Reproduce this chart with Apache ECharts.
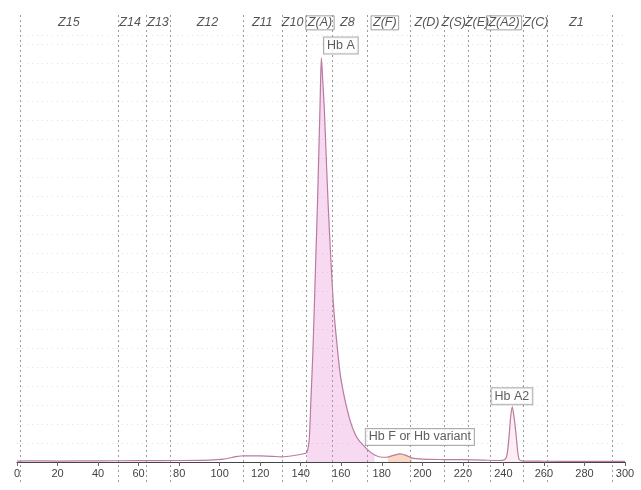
<!DOCTYPE html>
<html>
<head>
<meta charset="utf-8">
<style>
  html, body { margin: 0; padding: 0; background: #fff; }
  #chart { width: 641px; height: 490px; }
</style>
<script src="https://cdn.jsdelivr.net/npm/echarts@6/dist/echarts.min.js"></script>
</head>
<body>
<div id="chart"></div>
<script>
// trace: [migration position, signal]
const trace = [
  [0, 0.5], [10, 0.6], [20, 0.5], [40, 0.6], [60, 0.7], [80, 0.8], [95, 1], [102, 1.5],
  [108, 2.8], [112, 3.3], [120, 3.2], [126, 3], [131, 2.7], [136, 3.3], [141, 4.2], [143, 5],
  [144.2, 12], [145, 32], [146, 58], [146.8, 85], [147.5, 110], [148.2, 134], [148.9, 162],
  [149.5, 187], [149.9, 205], [150.2, 213], [150.6, 206], [151.6, 187], [152.6, 160],
  [153.6, 134], [154.8, 108], [156, 85], [157.6, 65], [159.4, 47], [161, 37], [162.6, 29],
  [164.6, 21], [166.7, 15], [168.6, 11.5], [170.7, 9], [173.5, 6], [176.5, 3.7], [180, 2.5],
  [183, 2.6], [186, 3.6], [189, 4.3], [192, 3.5], [195, 2], [200, 1.5], [210, 1.3], [220, 1.2],
  [230, 1], [238, 0.8], [240.5, 1.2], [241.6, 3], [242.3, 8], [242.9, 15], [243.6, 24],
  [244.4, 29], [245.2, 24], [246.2, 15], [247, 6], [247.7, 1.5], [249, 0.6], [260, 0.4],
  [280, 0.3], [300, 0.3]
]

// zone boundaries and labels
const zoneBounds = [1.5, 49.8, 63.6, 75.5, 111.5, 130.7, 142.6, 155.4, 172.7, 193.9, 211, 222.5, 233.4, 249.6, 261.5, 293.5]
const zoneNames = ['Z15', 'Z14', 'Z13', 'Z12', 'Z11', 'Z10', 'Z(A)', 'Z8', 'Z(F)', 'Z(D)', 'Z(S)', 'Z(E)', 'Z(A2)', 'Z(C)', 'Z1']
const zoneLabelX = [25.6, 55.8, 69.6, 94, 121, 136, 149.5, 163, 181.5, 202.3, 215.5, 227, 240.3, 256, 276]
const boxedZones = ['Z(A)', 'Z(F)', 'Z(A2)']

// peak labels
const peakNames = ['Hb A', 'Hb F or Hb variant', 'Hb A2']
const peakLabelX = [159.8, 198.8, 244.2]
const peakLabelY = [219.5, 13.2, 34.7]

const xTicks = [0, 20, 40, 60, 80, 100, 120, 140, 160, 180, 200, 220, 240, 260, 280, 300]

const chart = echarts.init(document.getElementById('chart'))

function slice (from, to) {
  return trace.filter(p => p[0] >= from && p[0] <= to)
}

chart.setOption({
  animation: false,
  textStyle: { fontFamily: 'Liberation Sans, Arial, sans-serif' },
  grid: [
    { left: 17, right: 16, top: 35, bottom: 28 },
    { left: 17, right: 16, top: 13, bottom: 8 }
  ],
  xAxis: [
    {
      gridIndex: 0,
      type: 'value',
      min: 0,
      max: 300,
      interval: 20,
      axisLine: { lineStyle: { color: '#444', width: 1.2 } },
      axisTick: { show: true, length: 4, lineStyle: { color: '#666' } },
      axisLabel: {
        color: '#444',
        fontSize: 11,
        margin: 6,
        formatter: v => xTicks.includes(v) ? String(v) : ''
      },
      splitLine: { show: false }
    },
    {
      gridIndex: 1,
      type: 'value',
      min: 0,
      max: 300,
      show: false
    }
  ],
  yAxis: [
    {
      gridIndex: 0,
      type: 'value',
      min: 0,
      max: 225,
      interval: 10,
      axisLine: { show: false },
      axisTick: { show: false },
      axisLabel: { show: false },
      splitLine: { show: true, lineStyle: { color: '#e2e2e2', type: [1, 4], width: 1 } }
    },
    {
      gridIndex: 1,
      type: 'value',
      min: 0,
      max: 100,
      show: false
    }
  ],
  series: [
    {
      name: 'HbA fill',
      type: 'line',
      xAxisIndex: 0,
      yAxisIndex: 0,
      data: slice(143, 178),
      smooth: 0.2,
      showSymbol: false,
      lineStyle: { width: 0 },
      areaStyle: { color: 'rgba(232, 150, 215, 0.5)', origin: 0 },
      silent: true,
      z: 2
    },
    {
      name: 'HbF fill',
      type: 'line',
      xAxisIndex: 0,
      yAxisIndex: 0,
      data: slice(183, 195),
      smooth: 0.2,
      showSymbol: false,
      lineStyle: { width: 0 },
      areaStyle: { color: 'rgba(245, 180, 140, 0.75)', origin: 0 },
      silent: true,
      z: 2
    },
    {
      name: 'HbA2 fill',
      type: 'line',
      xAxisIndex: 0,
      yAxisIndex: 0,
      data: slice(240.5, 249),
      smooth: 0.2,
      showSymbol: false,
      lineStyle: { width: 0 },
      areaStyle: { color: 'rgba(250, 225, 232, 0.8)', origin: 0 },
      silent: true,
      z: 2
    },
    {
      name: 'trace',
      type: 'line',
      xAxisIndex: 0,
      yAxisIndex: 0,
      data: trace,
      smooth: 0.2,
      showSymbol: false,
      lineStyle: { color: '#bb7aa0', width: 1.2 },
      z: 3
    },
    {
      name: 'zones',
      type: 'line',
      xAxisIndex: 1,
      yAxisIndex: 1,
      data: [],
      silent: true,
      markLine: {
        symbol: ['none', 'none'],
        silent: true,
        label: { show: false },
        lineStyle: { color: '#9a9a9a', type: [2, 3], width: 1 },
        data: zoneBounds.map(v => ({ xAxis: v }))
      }
    },
    {
      name: 'zoneLabels',
      type: 'scatter',
      xAxisIndex: 1,
      yAxisIndex: 1,
      symbolSize: 0,
      silent: true,
      data: zoneNames.map((n, i) => ({
        name: n,
        value: [zoneLabelX[i], 97.9],
        label: boxedZones.includes(n)
          ? { borderColor: '#888', borderWidth: 1, padding: [1, 2, 0, 2] }
          : {}
      })),
      label: {
        show: true,
        position: 'inside',
        formatter: '{b}',
        color: '#2a2a2a',
        fontSize: 12.5,
        fontStyle: 'italic'
      },
      z: 5
    },
    {
      name: 'peakLabels',
      type: 'scatter',
      xAxisIndex: 0,
      yAxisIndex: 0,
      symbolSize: 0,
      silent: true,
      data: peakNames.map((n, i) => ({ name: n, value: [peakLabelX[i], peakLabelY[i]] })),
      label: {
        show: true,
        position: 'inside',
        formatter: '{b}',
        color: '#333',
        fontSize: 12.5,
        backgroundColor: '#fff',
        borderColor: '#999',
        borderWidth: 1,
        padding: [2, 3, 1, 3]
      },
      z: 6
    }
  ]
})
</script>
</body>
</html>
